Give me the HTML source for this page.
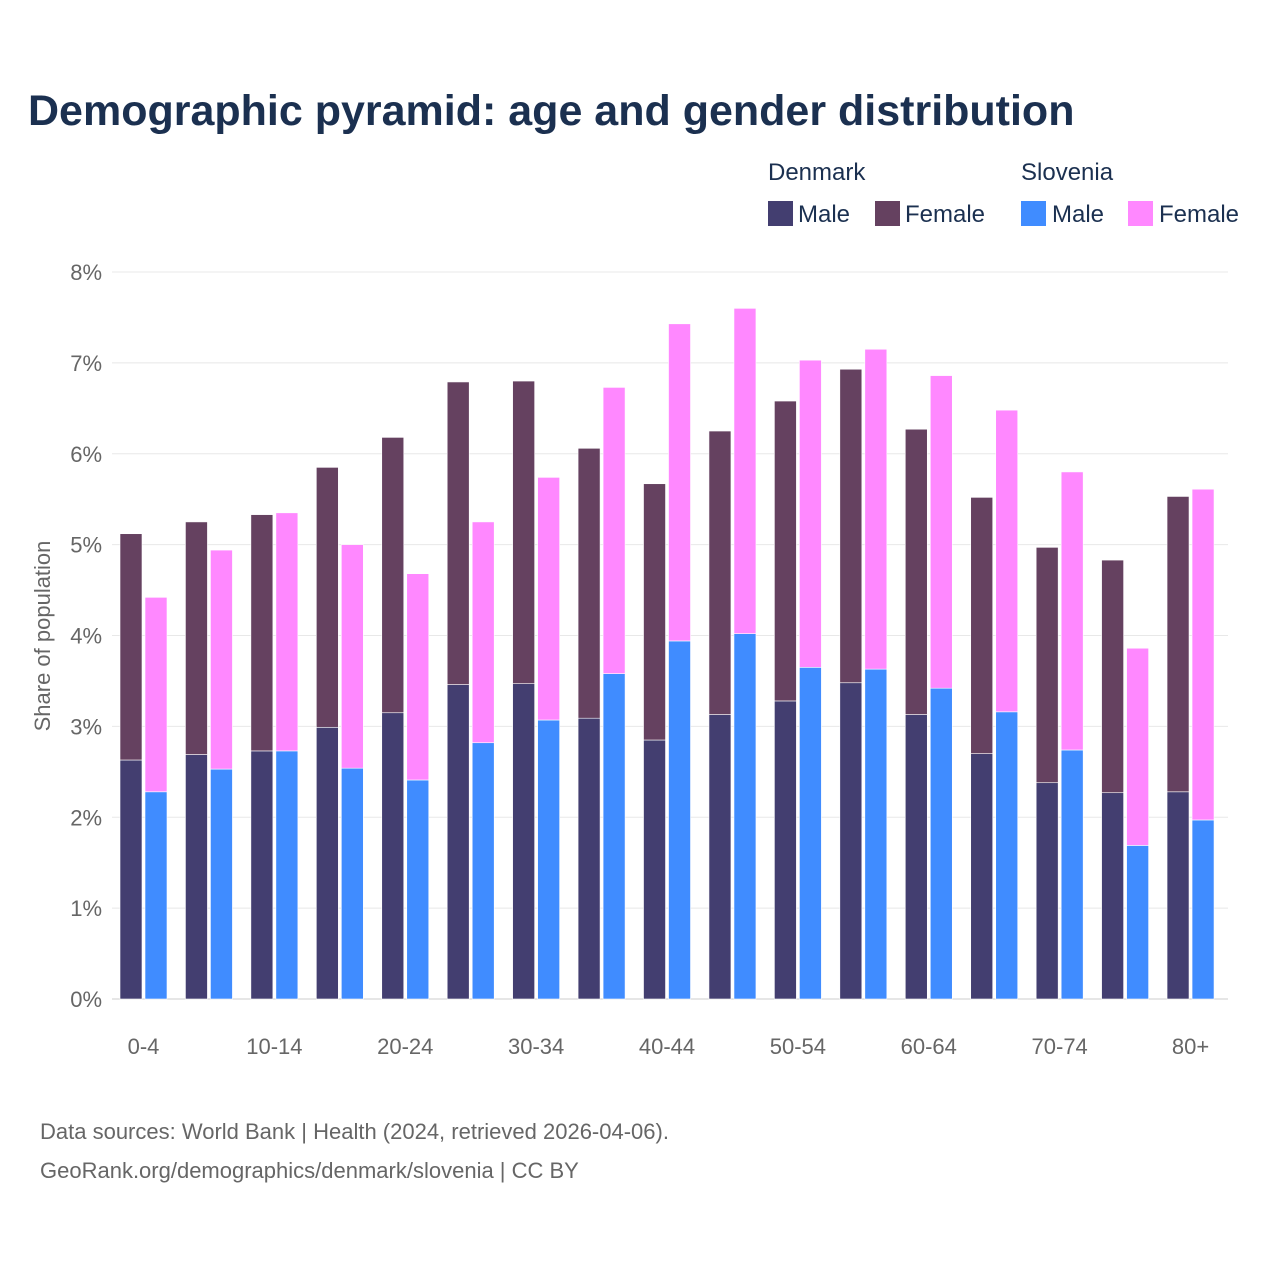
<!DOCTYPE html>
<html><head><meta charset="utf-8"><style>
body{margin:0;background:#fff;font-family:"Liberation Sans",sans-serif;}
</style></head><body>
<svg id="c" width="1280" height="1280" xmlns="http://www.w3.org/2000/svg">
<text x="28" y="125" font-size="43" font-weight="bold" fill="#1b3050">Demographic pyramid: age and gender distribution</text>
<g font-size="24" fill="#1b3050">
<text x="768" y="180">Denmark</text>
<text x="1021" y="180">Slovenia</text>
<rect x="768" y="201" width="25" height="25" fill="#433e70"/>
<text x="798" y="222">Male</text>
<rect x="875" y="201" width="25" height="25" fill="#654160"/>
<text x="905" y="222">Female</text>
<rect x="1021" y="201" width="25" height="25" fill="#408cff"/>
<text x="1052" y="222">Male</text>
<rect x="1128" y="201" width="25" height="25" fill="#ff88ff"/>
<text x="1159" y="222">Female</text>
</g>
<text transform="translate(50,636) rotate(-90)" text-anchor="middle" font-size="22" fill="#666">Share of population</text>
<g id="grid"></g><g id="bars"></g><g id="xl"></g>
<g font-size="22" fill="#666">
<text x="40" y="1139">Data sources: World Bank | Health (2024, retrieved 2026-04-06).</text>
<text x="40" y="1178">GeoRank.org/demographics/denmark/slovenia | CC BY</text>
</g>
</svg>
<script>
const categories=["0-4","5-9","10-14","15-19","20-24","25-29","30-34","35-39","40-44","45-49","50-54","55-59","60-64","65-69","70-74","75-79","80+"];
const dkMale=[2.63,2.69,2.73,2.99,3.15,3.46,3.47,3.09,2.85,3.13,3.28,3.48,3.13,2.70,2.38,2.27,2.28];
const dkTotal=[5.12,5.25,5.33,5.85,6.18,6.79,6.80,6.06,5.67,6.25,6.58,6.93,6.27,5.52,4.97,4.83,5.53];
const siMale=[2.28,2.53,2.73,2.54,2.41,2.82,3.07,3.58,3.94,4.02,3.65,3.63,3.42,3.16,2.74,1.69,1.97];
const siTotal=[4.42,4.94,5.35,5.00,4.68,5.25,5.74,6.73,7.43,7.60,7.03,7.15,6.86,6.48,5.80,3.86,5.61];
const dkFemale=dkTotal.map((t,i)=>+(t-dkMale[i]).toFixed(2));
const siFemale=siTotal.map((t,i)=>+(t-siMale[i]).toFixed(2));
const yTicks=[0,1,2,3,4,5,6,7,8];
const NS="http://www.w3.org/2000/svg";
const y=v=>999-v*90.875;
const cx=i=>143.5+i*65.44;
function mk(t,a,p){const e=document.createElementNS(NS,t);for(const k in a)e.setAttribute(k,a[k]);p.appendChild(e);return e;}
const grid=document.getElementById('grid');
yTicks.forEach(t=>{
 const l=mk('line',{x1:112,x2:1228,y1:y(t),y2:y(t),stroke:t===0?'#ccc':'#e8e8e8','stroke-width':1},grid);
 
 
 const tx=mk('text',{x:102,y:y(t)+8,'text-anchor':'end','font-size':22,fill:'#666'},grid);
 tx.textContent=t+'%';
 
 
});
const bars=document.getElementById('bars');
categories.forEach((c,i)=>{
 const x0=cx(i)-23.5,x1=cx(i)+1.5,w=22;
 const segs=[[x0,0,dkMale[i],'#433e70','bar-dk-male'],[x0,dkMale[i],dkMale[i]+dkFemale[i],'#654160','bar-dk-female'],
  [x1,0,siMale[i],'#408cff','bar-si-male'],[x1,siMale[i],siMale[i]+siFemale[i],'#ff88ff','bar-si-female']];
 segs.forEach(s=>{
  const r=mk('rect',{x:s[0],y:y(s[2]),width:w,height:y(s[1])-y(s[2]),fill:s[3],stroke:'#fff','stroke-width':0.6},bars);
  
  
 });
 if(i%2===0){
  const t=mk('text',{x:cx(i),y:1054,'text-anchor':'middle','font-size':22,fill:'#666'},document.getElementById('xl'));
  t.textContent=c;
  
  
 }
});
</script>
</body></html>
